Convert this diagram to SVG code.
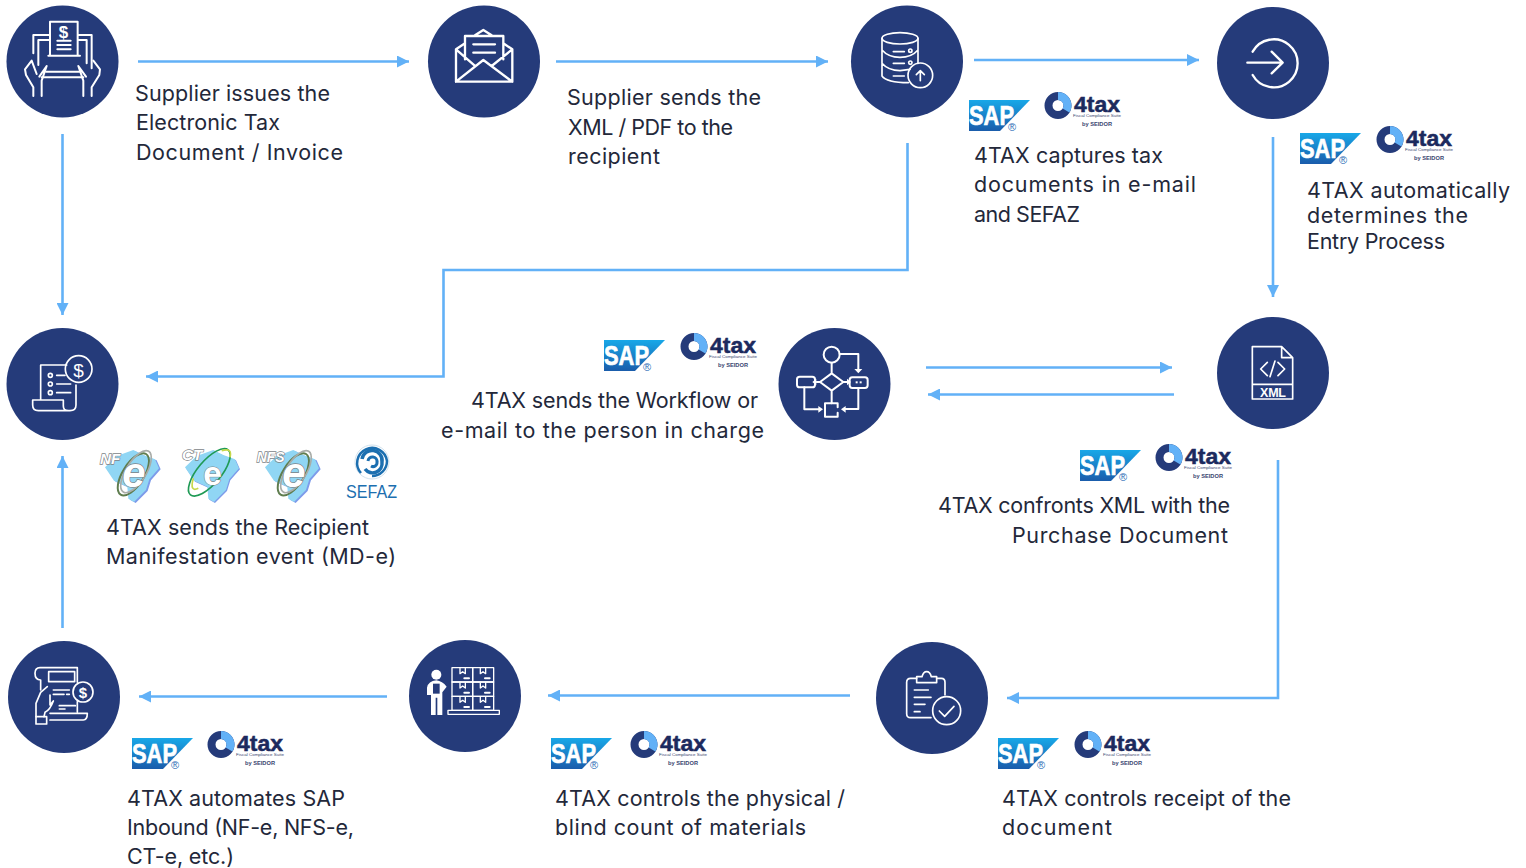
<svg xmlns="http://www.w3.org/2000/svg" width="1526" height="868" viewBox="0 0 1526 868">
<style>
.bg{fill:#253b7a}
.i{fill:none;stroke:#fff;stroke-width:7;stroke-linecap:round;stroke-linejoin:round}
.f{fill:#fff;stroke:none}
.c{fill:none;stroke:#62b1f7;stroke-width:2.6;marker-end:url(#ah)}
.t{font-family:Inter,"Liberation Sans",sans-serif;font-size:21.5px;fill:#23283a}
.it{font-family:"Liberation Sans",sans-serif;font-weight:700;fill:#fff}
.ml{fill:#90d6f4}
.ms{fill:#7d9bea}
.ne{font-family:"Liberation Sans",sans-serif;font-weight:700;font-style:italic;fill:#fff;stroke:#7c8488;stroke-width:4;paint-order:stroke}
</style>
<defs>
<marker id="ah" markerUnits="userSpaceOnUse" markerWidth="13" markerHeight="12" refX="12" refY="6" orient="auto"><path d="M0 0L12 6L0 12Z" fill="#62b1f7"/></marker>
<linearGradient id="sg" x1="0" y1="0" x2="0" y2="1"><stop offset="0" stop-color="#18a8e8"/><stop offset="1" stop-color="#1a5cab"/></linearGradient>
<g id="sap">
<path d="M0 0H61L31 31H0Z" fill="url(#sg)"/>
<text x="0" y="25" font-family="'Liberation Sans',sans-serif" font-weight="700" font-size="28" fill="#fff" stroke="#fff" stroke-width=".7" textLength="45" lengthAdjust="spacingAndGlyphs">SAP</text>
<text x="39" y="31" font-family="'Liberation Sans',sans-serif" font-size="11" fill="#2b6cb5">®</text>
</g>
<g id="tax">
<circle r="9.500" fill="none" stroke="#253b7a" stroke-width="8"/>
<path d="M0-9.500A9.500 9.500 0 0 1 8 5" fill="none" stroke="#62b1f7" stroke-width="8"/>
<text x="16" y="6" font-family="'Liberation Sans',sans-serif" font-weight="700" font-size="22" fill="#1c2a5e" stroke="#1c2a5e" stroke-width=".5" textLength="46" lengthAdjust="spacingAndGlyphs">4tax</text>
<text x="15" y="11.500" font-family="'Liberation Sans',sans-serif" font-size="4.200" fill="#3a4670" textLength="48" lengthAdjust="spacingAndGlyphs">Fiscal Compliance Suite</text>
<text x="24" y="20" font-family="'Liberation Sans',sans-serif" font-weight="700" font-size="5" fill="#3a4670" textLength="30" lengthAdjust="spacingAndGlyphs">by SEIDOR</text>
</g>
<path id="mapd" d="M80 48L130 30L160 45L195 58L207 85L178 118L168 150L132 186L115 176L112 140L72 122L45 82Z"/>
</defs>

<g id="connectors">
<path class="c" d="M138 61.500H409"/>
<path class="c" d="M556 61.500H828"/>
<path class="c" d="M974 60H1199"/>
<path class="c" d="M62.500 134V315"/>
<path class="c" d="M1273 137V297"/>
<path class="c" d="M907.500 143V270H443.500V376.500H146"/>
<path class="c" d="M926 367.500H1172"/>
<path class="c" d="M1174 394.500H928"/>
<path class="c" d="M1278 460V698H1007"/>
<path class="c" d="M850 695.500H548"/>
<path class="c" d="M387 696.500H139"/>
<path class="c" d="M62.500 628V456"/>
</g>

<g id="node-issue">
<circle class="bg" cx="62.500" cy="61.500" r="56"/>
<g transform="scale(.3333)" class="i" style="stroke-width:6">
<path d="M150 165V65H233V165M145 167H240M172 122H212M172 135H212M172 148H212"/>
<path d="M148 105H100V160M235 105H275V205M148 120H115V195M235 120H260V190M138 215H238M125 232H250"/>
<path d="M100 288V262L78 225L75 208L95 182L110 222M125 288V242L140 198L118 230"/>
<path d="M275 288V262L298 225L300 208L280 182M250 288V242L235 198L258 230"/>
</g>
<text class="it" x="63.500" y="38" font-size="17" text-anchor="middle">$</text>
<text class="t" x="135" y="101" textLength="195">Supplier issues the</text>
<text class="t" x="136" y="130" textLength="144">Electronic Tax</text>
<text class="t" x="136" y="160" textLength="207">Document / Invoice</text>
</g>

<g id="node-send">
<circle class="bg" cx="484" cy="61.500" r="56"/>
<g transform="translate(420 0) scale(.3333)" class="i">
<path d="M108 148V245H277V148M108 148L135 130M250 130L277 148M165 106L190 90L215 106M135 178V108H250V178M160 133H225M160 158H225M108 245L190 180L277 245M108 148L165 198M277 148L215 198"/>
</g>
<text class="t" x="567" y="105" textLength="194">Supplier sends the</text>
<text class="t" x="568" y="135" textLength="165">XML / PDF to the</text>
<text class="t" x="568" y="164" textLength="92">recipient</text>
</g>

<g id="node-capture">
<circle class="bg" cx="907" cy="61.500" r="56"/>
<g transform="translate(845 0) scale(.3333)" class="i" style="stroke-width:5">
<ellipse cx="165" cy="115" rx="54" ry="17"/>
<path d="M111 115V228Q125 248 190 248M219 115V190M111 150Q130 172 165 172Q200 172 219 150M111 190Q130 212 165 212L195 208M145 155H178M145 190H178M145 228H178"/>
<circle cx="196" cy="152" r="5"/><circle cx="196" cy="188" r="5"/>
<circle cx="226" cy="226" r="37"/>
<path d="M226 242V212M214 224L226 212L238 224"/>
</g>
<use href="#sap" x="969" y="100"/>
<use href="#tax" x="1058" y="105.500"/>
<text class="t" x="974" y="163" textLength="189">4TAX captures tax</text>
<text class="t" x="974" y="192" textLength="222">documents in e-mail</text>
<text class="t" x="974" y="222" textLength="106">and SEFAZ</text>
</g>

<g id="node-entry">
<circle class="bg" cx="1273" cy="63" r="56"/>
<g transform="translate(1210 0) scale(.3333)" class="i">
<path d="M128 155A72 72 0 1 1 128 225M112 188H218M185 155L218 188L185 220"/>
</g>
<use href="#sap" x="1300" y="133"/>
<use href="#tax" x="1390" y="139.500"/>
<text class="t" x="1307" y="198" textLength="203">4TAX automatically</text>
<text class="t" x="1307" y="223" textLength="161">determines the</text>
<text class="t" x="1307" y="249" textLength="138">Entry Process</text>
</g>

<g id="node-xml">
<circle class="bg" cx="1273" cy="373" r="56"/>
<g transform="translate(1210 310) scale(.3333)" class="i" style="stroke-width:5">
<path d="M215 110H127V267H248V143ZM215 110V143H248M127 223H248M172 157L152 177L172 197M204 157L224 177L204 197M195 153L180 200"/>
</g>
<text class="it" x="1260" y="396.500" font-size="12.500" textLength="26">XML</text>
<use href="#sap" x="1080" y="450"/>
<use href="#tax" x="1169" y="457.500"/>
<text class="t" x="938" y="513" textLength="292">4TAX confronts XML with the</text>
<text class="t" x="1012" y="543" textLength="216">Purchase Document</text>
</g>

<g id="node-workflow">
<circle class="bg" cx="834.500" cy="384" r="56"/>
<g transform="translate(775 320) scale(.3333)" class="i" style="stroke-width:6">
<circle cx="170" cy="104" r="24"/>
<path d="M194 102H250V152M170 128V160M170 160L205 186L170 212L135 186ZM135 186H125M205 186H215M170 212V250"/>
<rect x="66" y="170" width="54" height="32" rx="8"/><rect x="224" y="172" width="54" height="32" rx="8"/>
<path d="M88 202V268H135M188 262V250H150V290H188V278M250 204V267H208"/>
</g>
<g transform="translate(775 320) scale(.3333)" class="f">
<path d="M238 147H262L250 160ZM124 176V196L112 186ZM216 176V196L228 186ZM130 258V278L144 268ZM212 258V278L198 268Z"/>
<rect x="242" y="184" width="6" height="6"/><rect x="254" y="184" width="6" height="6"/>
</g>
<use href="#sap" x="604" y="340"/>
<use href="#tax" x="694" y="346.500"/>
<text class="t" x="471" y="408" textLength="287">4TAX sends the Workflow or</text>
<text class="t" x="441" y="438" textLength="323">e-mail to the person in charge</text>
</g>

<g id="node-manifest">
<circle class="bg" cx="62.500" cy="384" r="56"/>
<g transform="translate(0 320) scale(.3333)" class="i" style="stroke-width:5">
<path d="M122 240V135H200M228 195V255Q228 272 210 272H115Q98 272 98 255V240H190V258Q190 272 205 272"/>
<circle cx="236" cy="147" r="40"/>
<circle cx="151" cy="166" r="6"/><circle cx="151" cy="192" r="6"/><circle cx="151" cy="218" r="6"/>
<path d="M170 166H195M170 192H212M170 218H212"/>
</g>
<text class="it" x="78.500" y="376.500" font-size="19" text-anchor="middle" style="font-weight:400">$</text>
<g transform="translate(90 440) scale(.3333)">
<use href="#mapd" class="ms" transform="translate(5 3)"/>
<use href="#mapd" class="ml"/>
<ellipse cx="130" cy="103" rx="32" ry="72" transform="rotate(32 130 103)" fill="none" stroke="#5f7d4f" stroke-width="6"/>
<ellipse cx="138" cy="95" rx="30" ry="72" transform="rotate(32 138 95)" fill="none" stroke="#a9ada9" stroke-width="5"/>
<text class="ne" x="30" y="72" font-size="46">NF</text>
<text class="ne" x="97" y="140" font-size="125">e</text>
</g>
<g transform="translate(90 440) scale(.3333)">
<use href="#mapd" class="ms" transform="translate(243 3)"/>
<use href="#mapd" class="ml" transform="translate(240 0)"/>
<ellipse cx="358" cy="97" rx="35" ry="88" transform="rotate(40 358 97)" fill="none" stroke="#1f9a55" stroke-width="5"/>
<path d="M395 32Q428 22 420 52" fill="none" stroke="#c6d84a" stroke-width="5"/>
<path d="M310 115Q298 158 325 145" fill="none" stroke="#c6d84a" stroke-width="5"/>
<text class="ne" x="276" y="60" font-size="46">CT</text>
<text class="ne" x="340" y="136" font-size="100" style="font-style:normal;stroke-width:3">e</text>
</g>
<g transform="translate(90 440) scale(.3333)">
<use href="#mapd" class="ms" transform="translate(485 3)"/>
<use href="#mapd" class="ml" transform="translate(480 0)"/>
<ellipse cx="610" cy="103" rx="32" ry="72" transform="rotate(32 610 103)" fill="none" stroke="#5f7d4f" stroke-width="6"/>
<ellipse cx="618" cy="95" rx="30" ry="72" transform="rotate(32 618 95)" fill="none" stroke="#a9ada9" stroke-width="5"/>
<text class="ne" x="500" y="66" font-size="42">NFS</text>
<text class="ne" x="577" y="140" font-size="125">e</text>
</g>
<g fill="none" stroke="#1c6fb0">
<circle cx="372" cy="462" r="17" stroke="#c5d9e8" stroke-width=".8"/>
<path d="M361 473A15 15 0 1 1 387 461A15 15 0 0 1 372 476" stroke-width="2.500"/>
<path d="M362 459A10 10 0 0 1 382 462A9.500 9.500 0 0 1 365 469" stroke-width="3.500"/>
<path d="M368 461A4.500 4.500 0 0 1 377 462A4 4 0 0 1 371 466" stroke-width="3"/>
</g>
<text x="346" y="498" font-family="'Liberation Sans',sans-serif" font-size="18" fill="#1c6fb0" textLength="51" lengthAdjust="spacingAndGlyphs">SEFAZ</text>
<text class="t" x="106" y="535" textLength="263">4TAX sends the Recipient</text>
<text class="t" x="106" y="564" textLength="290">Manifestation event (MD-e)</text>
</g>

<g id="node-inbound">
<circle class="bg" cx="64" cy="697" r="56"/>
<g transform="translate(0 635) scale(.3333)" class="i" style="stroke-width:5">
<path d="M120 98H232V142M120 98Q105 98 105 115Q105 135 122 135V165M232 200V232"/>
<rect x="146" y="110" width="78" height="30"/>
<path d="M160 165H208M160 178H192M200 178H208M178 212H226M178 222H195"/>
<path d="M108 245V205L122 172L142 155M150 180V210L160 198Q150 225 135 232L132 245"/>
<path d="M150 235H262Q262 255 250 255H150"/>
<rect x="108" y="245" width="32" height="22"/>
<circle cx="249" cy="171" r="30"/>
</g>
<text class="it" x="83" y="698" font-size="15" text-anchor="middle">$</text>
<use href="#sap" x="132" y="738"/>
<use href="#tax" x="221" y="744.500"/>
<text class="t" x="127" y="806" textLength="218">4TAX automates SAP</text>
<text class="t" x="127" y="835" textLength="227">Inbound (NF-e, NFS-e,</text>
<text class="t" x="127" y="864" textLength="107">CT-e, etc.)</text>
</g>

<g id="node-count">
<circle class="bg" cx="465" cy="696" r="56"/>
<g transform="translate(405 635) scale(.3333)">
<circle class="f" cx="94" cy="119" r="15"/>
<path class="f" d="M66 180V158Q70 138 94 136Q112 138 125 155L112 172V240H97V188H92V240H78V180Z"/>
<path d="M84 146H104V176H84Z" fill="#253b7a"/>
<g class="i" style="stroke-width:4">
<rect x="141" y="98" width="62" height="43"/><rect x="203" y="98" width="63" height="43"/>
<rect x="141" y="141" width="62" height="43"/><rect x="203" y="141" width="63" height="43"/>
<rect x="141" y="184" width="62" height="42"/><rect x="203" y="184" width="63" height="42"/>
<rect x="129" y="226" width="154" height="12"/>
<path d="M165 100V116L173 110L181 116V100M226 100V116L234 110L242 116V100M165 143V159L173 153L181 159V143M226 143V159L234 153L242 159V143M165 186V202L173 196L181 202V186M226 186V202L234 196L242 202V186"/>
<path d="M178 130H192M240 130H254M178 173H192M240 173H254M178 216H192M240 216H254" style="stroke-width:6"/>
</g>
</g>
<use href="#sap" x="551" y="738"/>
<use href="#tax" x="644" y="744.500"/>
<text class="t" x="555" y="806" textLength="290">4TAX controls the physical /</text>
<text class="t" x="555" y="835" textLength="251">blind count of materials</text>
</g>

<g id="node-receipt">
<circle class="bg" cx="932" cy="698" r="56"/>
<g transform="translate(870 635) scale(.3333)" class="i" style="stroke-width:5">
<path d="M140 130H122Q110 130 110 142V236Q110 248 122 248H183M200 130H214Q225 130 225 142V180"/>
<path d="M140 143V125H156Q160 110 170 110Q180 110 184 125H200V143Z"/>
<path d="M133 165H175M133 187H183M133 208H165M133 230H150"/>
<circle cx="230" cy="227" r="42"/>
<path d="M208 228L224 244L252 214"/>
</g>
<use href="#sap" x="998" y="738"/>
<use href="#tax" x="1088" y="744.500"/>
<text class="t" x="1002" y="806" textLength="289">4TAX controls receipt of the</text>
<text class="t" x="1002" y="835" textLength="110">document</text>
</g>
</svg>
